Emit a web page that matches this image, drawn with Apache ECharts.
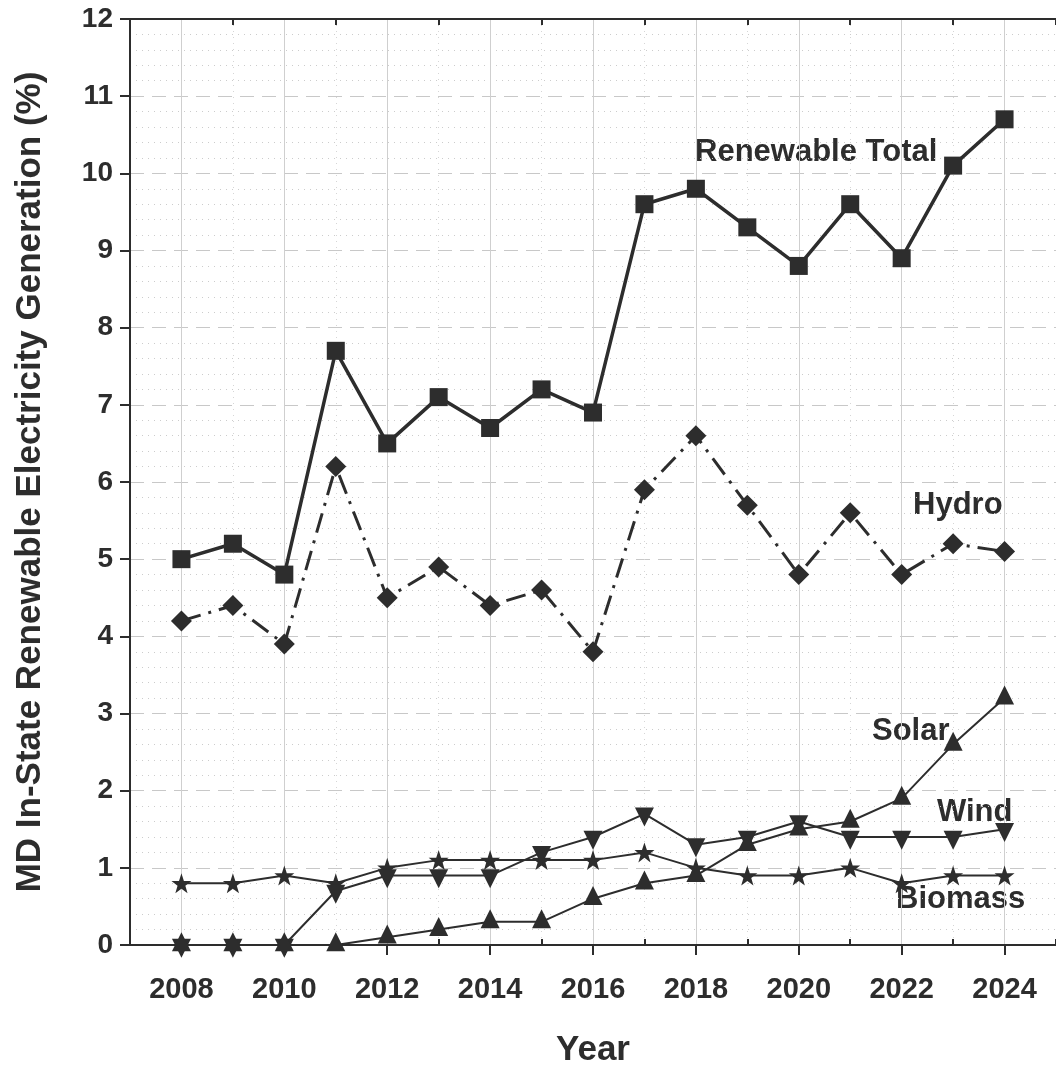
<!DOCTYPE html>
<html>
<head>
<meta charset="utf-8">
<script src="https://cdn.jsdelivr.net/npm/echarts@6/dist/echarts.min.js"></script>
<style>
  html, body { margin: 0; padding: 0; background: #ffffff; }
  #chart { width: 1056px; height: 1073px; }
</style>
</head>
<body>
<div id="chart"></div>
<script>
// Maryland in-state renewable electricity generation, share of total (%)
const years   = [2008, 2009, 2010, 2011, 2012, 2013, 2014, 2015, 2016, 2017, 2018, 2019, 2020, 2021, 2022, 2023, 2024];
const total   = [5.0, 5.2, 4.8, 7.7, 6.5, 7.1, 6.7, 7.2, 6.9, 9.6, 9.8, 9.3, 8.8, 9.6, 8.9, 10.1, 10.7];
const hydro   = [4.2, 4.4, 3.9, 6.2, 4.5, 4.9, 4.4, 4.6, 3.8, 5.9, 6.6, 5.7, 4.8, 5.6, 4.8, 5.2, 5.1];
const solar   = [0, 0, 0, 0, 0.1, 0.2, 0.3, 0.3, 0.6, 0.8, 0.9, 1.3, 1.5, 1.6, 1.9, 2.6, 3.2];
const wind    = [0, 0, 0, 0.7, 0.9, 0.9, 0.9, 1.2, 1.4, 1.7, 1.3, 1.4, 1.6, 1.4, 1.4, 1.4, 1.5];
const biomass = [0.8, 0.8, 0.9, 0.8, 1.0, 1.1, 1.1, 1.1, 1.1, 1.2, 1.0, 0.9, 0.9, 1.0, 0.8, 0.9, 0.9];

// axis labels
const xTicks = [2008, 2010, 2012, 2014, 2016, 2018, 2020, 2022, 2024];
const yTicks = [0, 1, 2, 3, 4, 5, 6, 7, 8, 9, 10, 11, 12];

const INK = '#2d2d2d';
const FONT = '"Liberation Sans", Arial, sans-serif';
const STAR = 'path://M50,0 L61.8,35.1 L98.1,35.1 L68.8,56.8 L79.4,91 L50,70 L20.6,91 L31.2,56.8 L1.9,35.1 L38.2,35.1 Z';
const TRI = 19;

const pairs = vals => years.map((y, i) => [y, vals[i]]);

const chart = echarts.init(document.getElementById('chart'), null, { renderer: 'canvas' });

const xMin = years[0] - 1, xMax = years[years.length - 1] + 1;
const plain = v => String(v);

chart.setOption({
  backgroundColor: '#ffffff',
  animation: false,
  grid: { left: 130, right: -4, top: 19, bottom: 126 },
  xAxis: [
    {
      // main year axis: labels and solid grid lines on even years
      type: 'value', min: xMin, max: xMax, interval: 1,
      position: 'bottom',
      name: 'Year', nameLocation: 'middle', nameGap: 88,
      nameTextStyle: { fontFamily: FONT, fontWeight: 'bold', fontSize: 35, color: INK },
      axisLine: { show: true, onZero: false, lineStyle: { color: INK, width: 2 } },
      axisTick: { show: true, inside: false, length: 10, customValues: xTicks, lineStyle: { color: INK, width: 2 } },
      axisLabel: { customValues: xTicks, formatter: plain, margin: 30, fontFamily: FONT, fontWeight: 'bold', fontSize: 29, color: INK },
      splitLine: { show: true, lineStyle: { color: '#cfcfcf', width: 1, type: 'solid' } }
    },
    {
      // odd-year minor ticks (inward) and faint dotted grid lines
      type: 'value', min: xMin, max: xMax, interval: 2,
      position: 'bottom',
      axisLine: { show: false },
      axisTick: { show: true, inside: true, length: 6, lineStyle: { color: INK, width: 2 } },
      axisLabel: { show: false },
      splitLine: { show: true, lineStyle: { color: '#d6d6d6', width: 1, type: [1, 5] } }
    },
    {
      // top frame with odd-year inward ticks
      type: 'value', min: xMin, max: xMax, interval: 2,
      position: 'top',
      axisLine: { show: true, onZero: false, lineStyle: { color: INK, width: 2 } },
      axisTick: { show: true, inside: true, length: 6, lineStyle: { color: INK, width: 2 } },
      axisLabel: { show: false },
      splitLine: { show: false }
    }
  ],
  yAxis: {
    type: 'value', min: yTicks[0], max: yTicks[yTicks.length - 1], interval: 1,
    name: 'MD In-State Renewable Electricity Generation (%)',
    nameLocation: 'middle', nameGap: 82,
    nameTextStyle: { fontFamily: FONT, fontWeight: 'bold', fontSize: 35, color: INK },
    axisLine: { show: true, lineStyle: { color: INK, width: 2 } },
    axisTick: { show: true, inside: false, length: 10, lineStyle: { color: INK, width: 2 } },
    axisLabel: { formatter: plain, margin: 17, fontFamily: FONT, fontWeight: 'bold', fontSize: 28, color: INK },
    splitLine: { show: true, lineStyle: { color: '#c8c8c8', width: 1, type: [14, 8] } },
    minorTick: { show: false, splitNumber: 5 },
    minorSplitLine: { show: true, lineStyle: { color: '#cccccc', width: 1, type: [1, 5] } }
  },
  series: [
    {
      name: 'Biomass', type: 'line', data: pairs(biomass),
      symbol: STAR, symbolSize: 20,
      lineStyle: { color: INK, width: 2 }, itemStyle: { color: INK },
      z: 2
    },
    {
      name: 'Wind', type: 'line', data: pairs(wind),
      symbol: 'triangle', symbolRotate: 180, symbolSize: TRI, symbolOffset: [0, TRI / 6],
      lineStyle: { color: INK, width: 2 }, itemStyle: { color: INK },
      z: 3
    },
    {
      name: 'Solar', type: 'line', data: pairs(solar),
      symbol: 'triangle', symbolSize: TRI, symbolOffset: [0, -TRI / 6],
      lineStyle: { color: INK, width: 2 }, itemStyle: { color: INK },
      z: 4
    },
    {
      name: 'Hydro', type: 'line', data: pairs(hydro),
      symbol: 'diamond', symbolSize: 21,
      lineStyle: { color: INK, width: 3, type: [20, 8, 3, 8] }, itemStyle: { color: INK },
      z: 5
    },
    {
      name: 'Renewable Total', type: 'line', data: pairs(total),
      symbol: 'rect', symbolSize: 18,
      lineStyle: { color: INK, width: 3.5 }, itemStyle: { color: INK },
      z: 6
    }
  ],
  graphic: [
    { type: 'text', x: 695, y: 152, style: { text: 'Renewable Total', fill: INK, font: 'bold 31px ' + FONT, align: 'left', verticalAlign: 'middle' } },
    { type: 'text', x: 913, y: 505, style: { text: 'Hydro', fill: INK, font: 'bold 31px ' + FONT, align: 'left', verticalAlign: 'middle' } },
    { type: 'text', x: 872, y: 731, style: { text: 'Solar', fill: INK, font: 'bold 31px ' + FONT, align: 'left', verticalAlign: 'middle' } },
    { type: 'text', x: 937, y: 812, style: { text: 'Wind', fill: INK, font: 'bold 31px ' + FONT, align: 'left', verticalAlign: 'middle' } },
    { type: 'text', x: 896, y: 899, style: { text: 'Biomass', fill: INK, font: 'bold 31px ' + FONT, align: 'left', verticalAlign: 'middle' } }
  ]
});
</script>
</body>
</html>
